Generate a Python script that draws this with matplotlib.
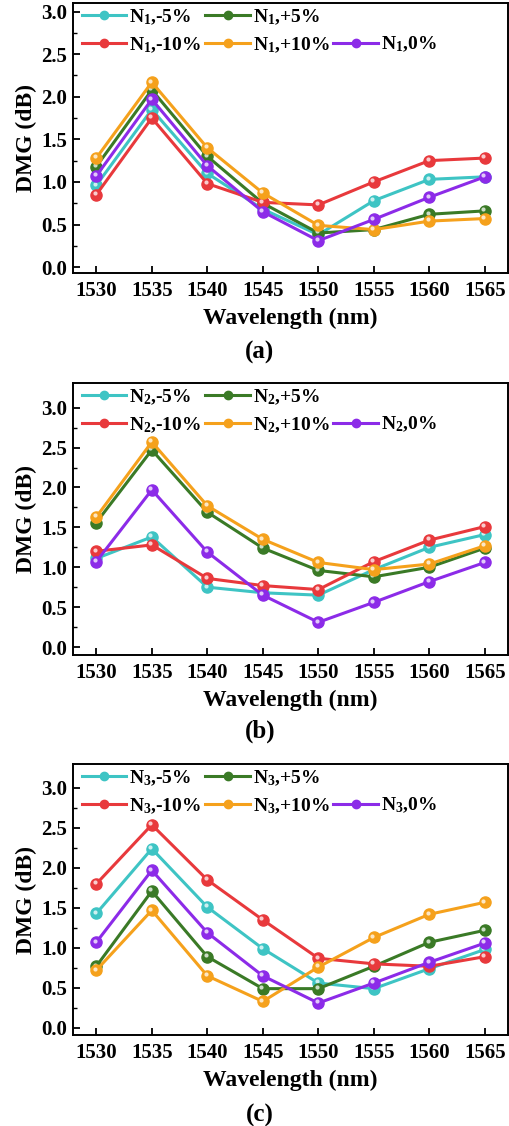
import matplotlib
matplotlib.use('Agg')
import matplotlib.pyplot as plt
from matplotlib.lines import Line2D
from matplotlib.transforms import ScaledTranslation

# data
wavelength = [1530, 1535, 1540, 1545, 1550, 1555, 1560, 1565]

n1_m5 = [0.96, 1.85, 1.10, 0.68, 0.38, 0.78, 1.03, 1.06]
n1_p5 = [1.18, 2.08, 1.30, 0.75, 0.40, 0.44, 0.62, 0.66]
n1_m10 = [0.85, 1.75, 0.98, 0.76, 0.73, 1.00, 1.25, 1.28]
n1_p10 = [1.28, 2.17, 1.40, 0.87, 0.49, 0.44, 0.54, 0.57]

n2_m5 = [1.11, 1.38, 0.75, 0.68, 0.65, 0.97, 1.25, 1.41]
n2_p5 = [1.56, 2.47, 1.69, 1.24, 0.96, 0.88, 1.00, 1.24]
n2_m10 = [1.20, 1.28, 0.86, 0.77, 0.72, 1.07, 1.34, 1.51]
n2_p10 = [1.63, 2.57, 1.77, 1.35, 1.06, 0.97, 1.04, 1.27]

n3_m5 = [1.43, 2.24, 1.51, 0.99, 0.56, 0.49, 0.74, 0.98]
n3_p5 = [0.77, 1.71, 0.89, 0.49, 0.49, 0.77, 1.07, 1.22]
n3_m10 = [1.80, 2.54, 1.85, 1.35, 0.87, 0.80, 0.77, 0.89]
n3_p10 = [0.72, 1.47, 0.65, 0.33, 0.76, 1.13, 1.42, 1.57]

base_0 = [1.07, 1.97, 1.19, 0.65, 0.31, 0.56, 0.82, 1.06]

suffixes = ['-5%', '+5%', '-10%', '+10%', '0%']
colors = ['#3ec4c4', '#3a7a26', '#e8393c', '#f5a11c', '#8c2be8']
panel_tags = ['(a)', '(b)', '(c)']

panels = [
    [n1_m5, n1_p5, n1_m10, n1_p10, base_0],
    [n2_m5, n2_p5, n2_m10, n2_p10, base_0],
    [n3_m5, n3_p5, n3_m10, n3_p10, base_0],
]

plt.rcParams['font.family'] = ['Liberation Serif', 'DejaVu Serif']
plt.rcParams['font.weight'] = 'bold'
plt.rcParams['axes.labelweight'] = 'bold'
plt.rcParams['mathtext.fontset'] = 'custom'
plt.rcParams['mathtext.rm'] = 'Liberation Serif:bold'
plt.rcParams['mathtext.bf'] = 'Liberation Serif:bold'
plt.rcParams['mathtext.it'] = 'Liberation Serif:bold:italic'

fig = plt.figure(figsize=(5.09, 11.26), dpi=100)

# axes boxes in figure fractions (left, bottom, width, height)
boxes = [
    (0.1434, 0.7575, 0.855, 0.2398),
    (0.1434, 0.4183, 0.855, 0.2416),
    (0.1434, 0.0808, 0.855, 0.2407),
]
ylims = [(-0.07, 3.1), (-0.1, 3.31), (-0.09, 3.3)]
tag_y = [1126 - 352, 1126 - 731, 1126 - 1115]

hl_offset = ScaledTranslation(-1.2 / 72, 1.2 / 72, fig.dpi_scale_trans)

for k in range(3):
    ax = fig.add_axes(boxes[k])
    handles = []
    for i, ys in enumerate(panels[k]):
        ln, = ax.plot(wavelength, ys, '-o', color=colors[i], lw=2.2, ms=8,
                      mec=colors[i], mfc=colors[i],
                      label='N$_\\mathregular{%d}$,%s' % (k + 1, suffixes[i]))
        # little highlight to mimic the glossy spheres
        ax.plot(wavelength, ys, 'o', ms=3, color='white', alpha=0.75,
                mec='none', transform=ax.transData + hl_offset)
        handles.append(ln)

    ax.set_xlim(1527.9, 1567.1)
    ax.set_ylim(*ylims[k])
    ax.set_xticks(wavelength)
    ax.set_yticks([0.0, 0.5, 1.0, 1.5, 2.0, 2.5, 3.0])
    ax.set_yticks([0.25, 0.75, 1.25, 1.75, 2.25, 2.75], minor=True)
    ax.set_yticklabels(['%.1f' % v for v in ax.get_yticks()])
    ax.tick_params(axis='both', which='major', direction='in', length=5,
                   width=1.3, labelsize=15)
    ax.tick_params(axis='x', pad=6)
    ax.tick_params(axis='y', pad=4)
    ax.tick_params(axis='y', which='minor', direction='in', length=3, width=1.0)
    for sp in ax.spines.values():
        sp.set_linewidth(1.4)

    ax.set_xlabel('Wavelength (nm)', fontsize=17, labelpad=4.5)
    ax.set_ylabel('DMG (dB)', fontsize=17, labelpad=3)

    blank = Line2D([], [], alpha=0)
    order = [handles[0], handles[2], handles[1], handles[3], blank, handles[4]]
    labels = [h.get_label() if h is not blank else '' for h in order]
    ax.legend(order, labels, ncol=3, loc='upper left',
              bbox_to_anchor=(0.02, 0.985), frameon=False, fontsize=14,
              handlelength=2.3, handletextpad=0.15, columnspacing=0.2,
              labelspacing=0.45, borderpad=0, borderaxespad=0, markerscale=0.75)

    fig.text(260 / 509, tag_y[k] / 1126, panel_tags[k], ha='center',
             va='center', fontsize=18, fontweight='bold')

fig.savefig('out.png', dpi=100)
